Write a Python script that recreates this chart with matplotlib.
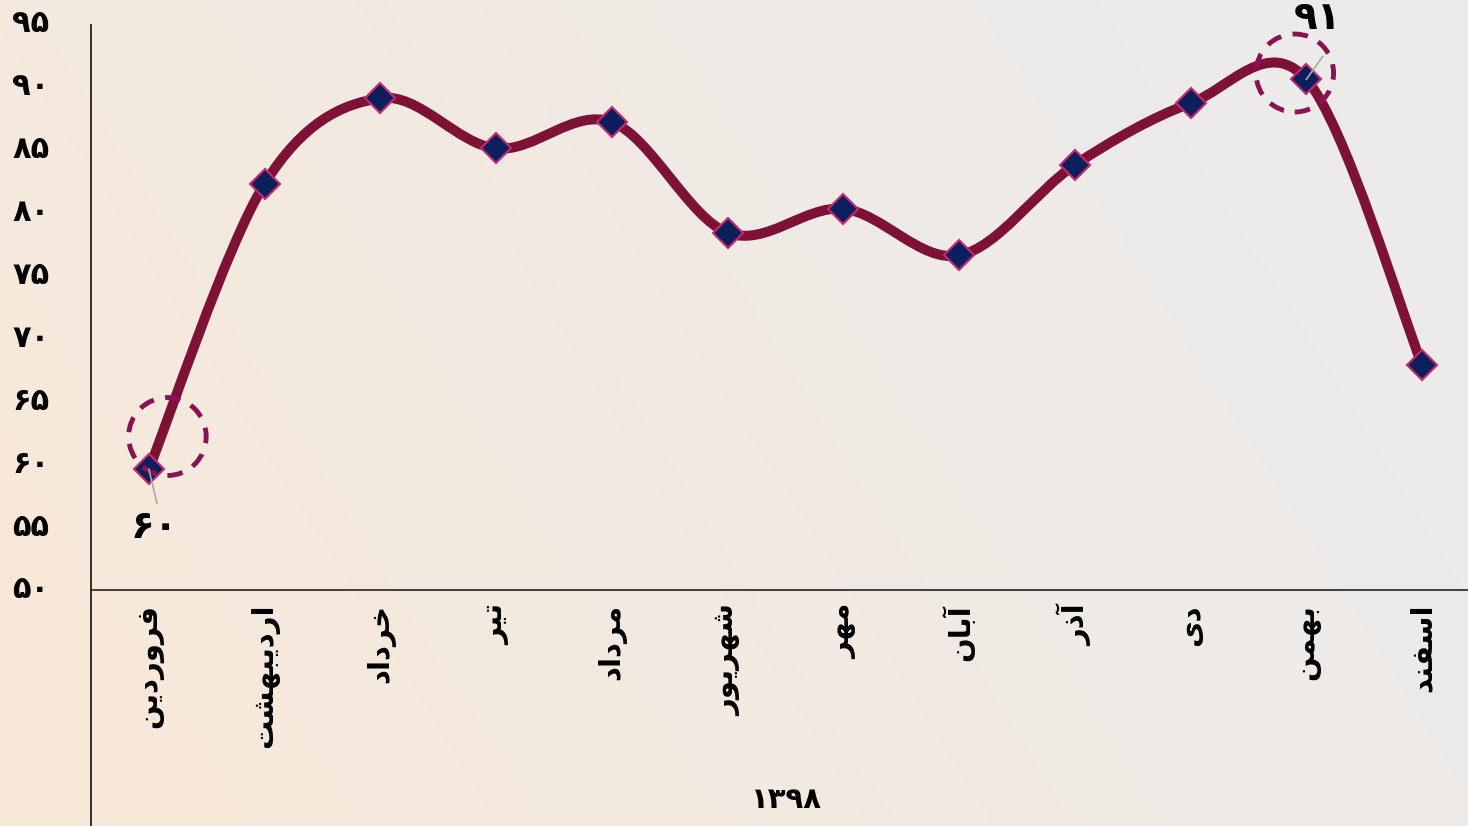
import numpy as np
import matplotlib
matplotlib.use("Agg")
import matplotlib.pyplot as plt
import matplotlib.transforms as mtransforms
from matplotlib.path import Path
from matplotlib.patches import PathPatch, Ellipse
from matplotlib.lines import Line2D

months = ["فروردین", "اردیبهشت", "خرداد", "تیر", "مرداد", "شهریور",
          "مهر", "آبان", "آذر", "دی", "بهمن", "اسفند"]
values = [60, 82.7, 89.5, 85.5, 87.6, 78.8, 80.7, 77.0, 84.2, 89.1, 91, 68.3]
y_ticks = [50, 55, 60, 65, 70, 75, 80, 85, 90, 95]
year = "1398"
labelled = {0: "60", 10: "91"}

# arabic presentation forms: isolated, final, initial, medial
FORMS = {
    'ا': (0xFE8D, 0xFE8E, None, None),
    'آ': (0xFE81, 0xFE82, None, None),
    'ب': (0xFE8F, 0xFE90, 0xFE91, 0xFE92),
    'ت': (0xFE95, 0xFE96, 0xFE97, 0xFE98),
    'خ': (0xFEA5, 0xFEA6, 0xFEA7, 0xFEA8),
    'د': (0xFEA9, 0xFEAA, None, None),
    'ذ': (0xFEAB, 0xFEAC, None, None),
    'ر': (0xFEAD, 0xFEAE, None, None),
    'س': (0xFEB1, 0xFEB2, 0xFEB3, 0xFEB4),
    'ش': (0xFEB5, 0xFEB6, 0xFEB7, 0xFEB8),
    'ف': (0xFED1, 0xFED2, 0xFED3, 0xFED4),
    'م': (0xFEE1, 0xFEE2, 0xFEE3, 0xFEE4),
    'ن': (0xFEE5, 0xFEE6, 0xFEE7, 0xFEE8),
    'ه': (0xFEE9, 0xFEEA, 0xFEEB, 0xFEEC),
    'و': (0xFEED, 0xFEEE, None, None),
    'ی': (0xFEEF, 0xFEF0, 0xFEF3, 0xFEF4),
}


def shape(word):
    out = []
    for i, c in enumerate(word):
        iso, fin, ini, med = FORMS[c]
        prev_joins = i > 0 and FORMS[word[i - 1]][2] is not None
        next_joins = ini is not None and i < len(word) - 1
        if prev_joins and next_joins:
            f = med
        elif prev_joins:
            f = fin
        elif next_joins:
            f = ini
        else:
            f = iso
        out.append(chr(f))
    return "".join(reversed(out))


def fa(s):
    return "".join(chr(0x06F0 + int(ch)) if ch.isdigit() else ch for ch in str(s))


def smooth_path(x, y):
    pts = np.column_stack([x, y]).astype(float)
    n = len(pts)
    verts = [pts[0]]
    codes = [Path.MOVETO]
    for i in range(n - 1):
        p0 = pts[i - 1] if i > 0 else pts[i]
        p1, p2 = pts[i], pts[i + 1]
        p3 = pts[i + 2] if i + 2 < n else pts[i + 1]
        verts += [p1 + (p2 - p0) / 6, p2 - (p3 - p1) / 6, p2]
        codes += [Path.CURVE4] * 3
    return Path(verts, codes)


W, H = 1468, 826
fig = plt.figure(figsize=(W / 100, H / 100), dpi=100)

# background gradient
bg = fig.add_axes([0, 0, 1, 1], zorder=-5)
gx, gy = np.meshgrid(np.linspace(0, 1, 300), np.linspace(0, 1, 170))
t = np.clip((gx * 1.0 + (1 - gy) * 0.35) / 1.1, 0, 1)
c0 = np.array([249, 232, 216]) / 255
c1 = np.array([236, 235, 234]) / 255
img = c0[None, None, :] * (1 - t[..., None]) + c1[None, None, :] * t[..., None]
bg.imshow(img, extent=[0, 1, 0, 1], aspect="auto", origin="upper")
bg.axis("off")

ax = fig.add_axes([91 / W, 1 - 595 / H, (1480 - 91) / W, (595 - 29) / H])
ax.patch.set_alpha(0)
for s in ["top", "right", "left"]:
    ax.spines[s].set_visible(False)
ax.spines["bottom"].set_position(("axes", 5 / 566))
ax.spines["bottom"].set_color("#333333")
ax.spines["bottom"].set_linewidth(1.3)

x = np.arange(len(months))
ax.add_patch(PathPatch(smooth_path(x, values), fill=False, edgecolor="#7D1236",
                       lw=7.2, capstyle="round", joinstyle="round", zorder=3))
ax.plot(x, values, ls="none", marker="D", ms=15, mfc="#0A1F5C", mec="#C8286E",
        mew=1.5, zorder=4)

ax.set_xlim(-0.5, len(months) - 0.5)
ax.set_ylim(50, 95)
ax.set_yticks(y_ticks)
ax.set_yticklabels([fa(v) for v in y_ticks], fontsize=22, fontweight="bold")
ax.set_xticks(x)
ax.set_xticklabels([shape(m) for m in months], rotation=90, fontsize=21,
                   fontweight="bold", va="top", ha="center")
ax.tick_params(axis="y", length=0, pad=30)
ax.tick_params(axis="x", length=0, pad=10)
up = mtransforms.ScaledTranslation(0, 8 / 100, fig.dpi_scale_trans)
for lab in ax.get_yticklabels():
    lab.set_transform(lab.get_transform() + up)

# y axis line runs to the bottom of the picture
fig.add_artist(Line2D([91 / W, 91 / W], [0, 1 - 25 / H], transform=fig.transFigure,
                      color="#222222", lw=1.3))

# highlight circles and data labels
for i, lab in labelled.items():
    if i == 0:
        cx, cy = 0.16, values[i] + 2.6
        lx, ly = 0.05, values[i] - 4.6
        ex, ey = 0.07, values[i] - 2.7
    else:
        cx, cy = i - 0.1, values[i] + 0.5
        lx, ly = i + 0.1, values[i] + 4.9
        ex, ey = i + 0.14, values[i] + 1.8
    ax.add_patch(Ellipse((cx, cy), 0.67, 6.2, fill=False, edgecolor="#8A1252",
                         lw=3.5, ls=(0, (3.2, 2.4)), zorder=5))
    ax.plot([i, ex], [values[i], ey], color="#A8A8A8", lw=1.2, zorder=5)
    ax.text(lx, ly, fa(lab), fontsize=28, fontweight="bold", ha="center",
            va="center", zorder=6, clip_on=False)

fig.text(786 / W, 1 - 800 / H, fa(year), fontsize=21, fontweight="bold",
         ha="center", va="center")

fig.savefig("out.png", dpi=100)
